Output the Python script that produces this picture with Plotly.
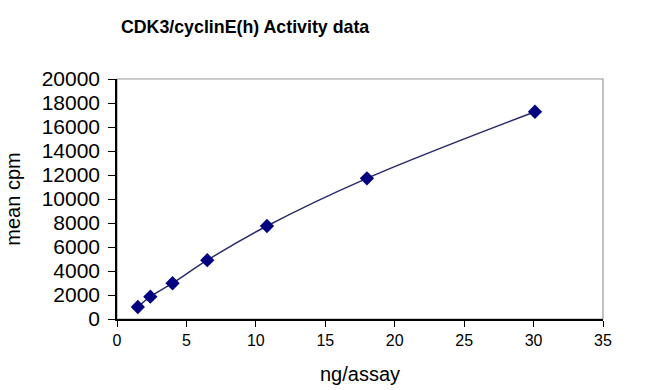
import plotly.graph_objects as go

ng_per_assay = [1.5, 2.4, 4.0, 6.5, 10.8, 18, 30.1]
mean_cpm = [1000, 1860, 2980, 4900, 7750, 11720, 17270]
y_ticks = list(range(0, 20001, 2000))
y_tick_labels = [str(v) for v in y_ticks]
x_ticks = list(range(0, 36, 5))

fig = go.Figure()
fig.add_trace(go.Scatter(
    x=ng_per_assay, y=mean_cpm, mode="lines+markers",
    line=dict(color="#2b2b6b", width=1.5, shape="spline", smoothing=1),
    marker=dict(symbol="diamond", size=11, color="#000080"),
    showlegend=False,
))

font = "Liberation Sans, Arial, sans-serif"
fig.update_layout(
    width=650, height=390,
    margin=dict(l=117, r=47, t=79, b=71, autoexpand=False),
    paper_bgcolor="white", plot_bgcolor="white",
    title=dict(text="<b>CDK3/cyclinE(h) Activity data</b>", x=0.377, xanchor="center",
               y=0.931, yanchor="middle", automargin=False,
               font=dict(family=font, size=17.8, color="black")),
    shapes=[dict(type="rect", xref="paper", yref="paper", x0=0, y0=0, x1=1, y1=1,
                 line=dict(color="#9a9a9a", width=1.2), layer="below")],
)
fig.update_xaxes(
    range=[0, 35], tickvals=x_ticks, showgrid=False, zeroline=False, automargin=False,
    showline=True, linecolor="black", linewidth=1.5,
    ticks="outside", ticklen=6, tickcolor="black", tickwidth=1.2,
    tickfont=dict(family=font, size=16, color="black"),
    title=dict(text="ng/assay", font=dict(family=font, size=20, color="black"), standoff=19),
)
fig.update_yaxes(
    range=[0, 20000], tickvals=y_ticks, ticktext=y_tick_labels, showgrid=False, zeroline=False,
    automargin=False, ticklabelstandoff=4,
    showline=True, linecolor="black", linewidth=1.5,
    ticks="outside", ticklen=7, tickcolor="black", tickwidth=1.2,
    tickfont=dict(family=font, size=21, color="black"),
    title=dict(text="mean cpm", font=dict(family=font, size=20, color="black"), standoff=16),
)
fig.write_html("out.html", config={"displayModeBar": False},
               post_script="document.body.style.margin='0';")
